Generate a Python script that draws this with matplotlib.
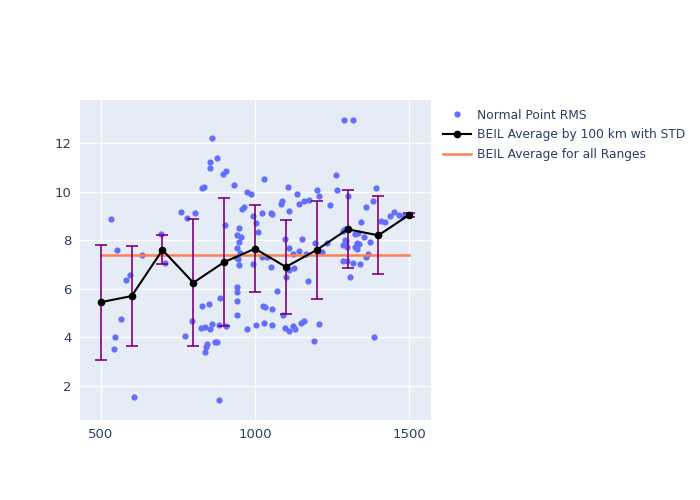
import matplotlib.pyplot as plt
from matplotlib.lines import Line2D

# scatter: normal point RMS
pt_range = [532, 552, 565, 545, 542, 581, 594, 607, 633, 695, 708, 773, 760, 779, 805,
            795, 828, 834, 828, 851, 825, 838, 854, 860, 883, 906, 844, 841, 838, 870,
            877, 883, 860, 854, 854, 877, 896, 906, 932, 974, 987, 964, 958, 994, 886,
            948, 941, 955, 949, 942, 951, 938, 945, 948, 994, 903, 943, 942, 942, 942,
            1003, 1010, 1023, 1039, 1023, 1029, 1052, 1055, 1052, 1071, 1026, 1032, 1055,
            1091, 974, 1003, 1029, 1055, 1097, 1110, 1123, 1130, 1149, 1159, 1208, 1192,
            1386, 1084, 1088, 1107, 1110, 1136, 1143, 1159, 1175, 1201, 1208, 1243, 1263,
            1266, 1289, 1318, 1302, 1097, 1110, 1101, 1110, 1123, 1127, 1143, 1153, 1166,
            1172, 1195, 1217, 1234, 1286, 1292, 1286, 1299, 1286, 1299, 1308, 1318, 1341,
            1325, 1334, 1331, 1338, 1325, 1331, 1344, 1354, 1360, 1367, 1360, 1373, 1383,
            1393, 1409, 1422, 1438, 1451, 1467, 1480, 1500, 1290, 1295]
pt_rms = [8.87, 7.6, 4.76, 4.0, 3.52, 6.36, 6.57, 1.55, 7.4, 8.25, 7.06, 4.06, 9.15, 8.9, 9.1,
          4.67, 10.15, 10.2, 5.3, 5.37, 4.39, 4.43, 4.35, 4.55, 4.5, 4.47, 3.73, 3.6, 3.4, 3.8,
          3.8, 1.42, 12.2, 11.2, 10.97, 11.38, 10.72, 10.85, 10.27, 9.98, 9.9, 9.37, 9.3, 9.0, 5.62,
          8.5, 8.2, 8.13, 7.93, 7.68, 7.47, 7.3, 7.22, 6.98, 7.02, 8.63, 6.07, 5.87, 5.5, 4.92,
          8.7, 8.35, 7.3, 7.3, 9.12, 10.5, 9.12, 9.08, 6.9, 5.9, 5.3, 5.25, 5.17,
          4.92, 4.35, 4.5, 4.58, 4.5, 4.39, 4.27, 4.47, 4.35, 4.58, 4.67, 4.55, 3.85,
          4.0, 9.5, 9.6, 10.2, 9.2, 9.9, 9.5, 9.6, 9.65, 10.05, 9.8, 9.45, 10.7,
          10.05, 12.95, 12.95, 9.82, 8.05, 7.68, 6.48, 6.77, 7.43, 6.86, 7.56, 8.05, 7.43,
          6.32, 7.88, 7.51, 7.88, 8.38, 8.0, 7.8, 7.72, 7.14, 7.14, 6.48, 7.06, 7.02,
          8.26, 8.3, 7.88, 7.84, 7.72, 7.64, 8.75, 8.13, 9.37, 7.43, 7.3, 7.93, 9.6,
          10.15, 8.79, 8.75, 9.0, 9.16, 9.04, 9.0, 9.05, 8.45, 7.95]

# averages by 100 km bins
bin_range = [500, 600, 700, 800, 900, 1000, 1100, 1200, 1300, 1400, 1500]
bin_avg = [5.45, 5.7, 7.6, 6.25, 7.1, 7.65, 6.9, 7.6, 8.45, 8.2, 9.05]
bin_std = [2.37, 2.07, 0.6, 2.62, 2.62, 1.78, 1.93, 2.0, 1.6, 1.6, 0.08]

overall_avg = 7.4
overall_x = [500, 1500]

labels = ['Normal Point RMS', 'BEIL Average by 100 km with STD', 'BEIL Average for all Ranges']

fig = plt.figure(figsize=(7, 5), dpi=100)
ax = fig.add_axes([0.114, 0.16, 0.502, 0.64])
ax.set_facecolor('#E5ECF6')

ax.scatter(pt_range, pt_rms, s=20, color='#636EFA', linewidths=0, zorder=3)
ax.errorbar(bin_range, bin_avg, yerr=bin_std, color='black', lw=1.5, marker='o',
            markersize=4.5, ecolor='purple', elinewidth=1.2, capsize=4, capthick=1.2,
            zorder=4)
ax.plot(overall_x, [overall_avg] * 2, color='#FF7F50', lw=1.8, zorder=3)

ax.set_xlim(432, 1571)
ax.set_ylim(0.6, 13.77)
ax.set_xticks([500, 1000, 1500])
ax.set_yticks([2, 4, 6, 8, 10, 12])
ax.grid(True, color='white', lw=1)
ax.set_axisbelow(True)
for s in ax.spines.values():
    s.set_visible(False)
ax.tick_params(length=0, labelcolor='#2a3f5f', labelsize=9.5, pad=6)

handles = [
    Line2D([], [], ls='none', marker='o', markersize=4.5, color='#636EFA', markeredgewidth=0),
    Line2D([], [], color='black', lw=1.5, marker='o', markersize=4.5),
    Line2D([], [], color='#FF7F50', lw=1.8),
]
ax.legend(handles, labels, loc='upper left', bbox_to_anchor=(1.01, 1.0), frameon=False,
          fontsize=8.8, labelcolor='#2a3f5f', handlelength=2.3, handletextpad=0.5,
          labelspacing=0.55, borderaxespad=0.3)

fig.savefig('out.png', dpi=100)
